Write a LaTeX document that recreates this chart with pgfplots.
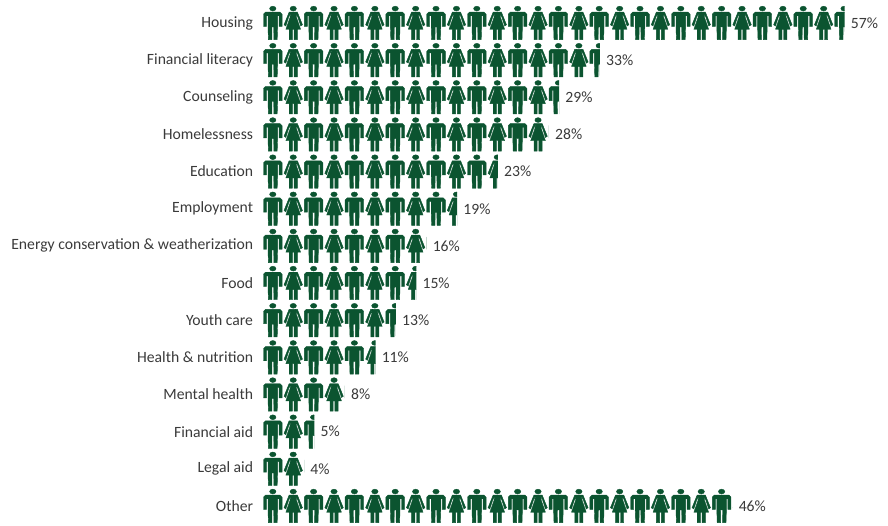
\documentclass[border=0pt]{standalone}
\usepackage{fontspec}
\setmainfont{Carlito}
\usepackage{pgfplots}
\pgfplotsset{compat=1.18}
\usetikzlibrary{patterns}
\definecolor{figure}{HTML}{0B5430}
\definecolor{labeltext}{HTML}{3A3A3A}

% Phase of the figures in the tile, in units of 1/0.75 pt
\def\ox{18.5}
\def\oy{2.05}
\def\pp#1#2#3{\pgfpoint{(\ox+#1+#2)*0.75pt}{(\oy+34-#3)*0.75pt}}
\newcommand\man[1]{%
  \pgfpathellipse{\pp{#1}{9.5}{2.6}}{\pgfqpoint{2.4pt}{0pt}}{\pgfqpoint{0pt}{1.8pt}}%
  \pgfpathmoveto{\pp{#1}{0.2}{8.2}}%
  \pgfpathlineto{\pp{#1}{2.2}{6.2}}\pgfpathlineto{\pp{#1}{16.8}{6.2}}%
  \pgfpathlineto{\pp{#1}{18.8}{8.2}}\pgfpathlineto{\pp{#1}{18.8}{20.4}}%
  \pgfpathlineto{\pp{#1}{15.8}{20.4}}\pgfpathlineto{\pp{#1}{15.8}{9.8}}%
  \pgfpathlineto{\pp{#1}{14.3}{9.8}}\pgfpathlineto{\pp{#1}{14.3}{21}}%
  \pgfpathlineto{\pp{#1}{13.9}{33.7}}\pgfpathlineto{\pp{#1}{10.5}{33.7}}%
  \pgfpathlineto{\pp{#1}{10.4}{21}}\pgfpathlineto{\pp{#1}{8.6}{21}}%
  \pgfpathlineto{\pp{#1}{8.5}{33.7}}\pgfpathlineto{\pp{#1}{5.1}{33.7}}%
  \pgfpathlineto{\pp{#1}{4.7}{21}}\pgfpathlineto{\pp{#1}{4.7}{9.8}}%
  \pgfpathlineto{\pp{#1}{3.2}{9.8}}\pgfpathlineto{\pp{#1}{3.2}{20.4}}%
  \pgfpathlineto{\pp{#1}{0.2}{20.4}}\pgfpathclose
}
\newcommand\woman[1]{%
  \pgfpathellipse{\pp{#1}{9.35}{2.6}}{\pgfqpoint{2.4pt}{0pt}}{\pgfqpoint{0pt}{1.8pt}}%
  % dress and legs
  \pgfpathmoveto{\pp{#1}{7.0}{6.2}}\pgfpathlineto{\pp{#1}{11.7}{6.2}}%
  \pgfpathlineto{\pp{#1}{12.6}{11.5}}\pgfpathlineto{\pp{#1}{16.7}{23.3}}%
  \pgfpathlineto{\pp{#1}{13.4}{23.3}}\pgfpathlineto{\pp{#1}{13.4}{33.7}}%
  \pgfpathlineto{\pp{#1}{10.2}{33.7}}\pgfpathlineto{\pp{#1}{10.2}{23.3}}%
  \pgfpathlineto{\pp{#1}{8.5}{23.3}}\pgfpathlineto{\pp{#1}{8.5}{33.7}}%
  \pgfpathlineto{\pp{#1}{5.3}{33.7}}\pgfpathlineto{\pp{#1}{5.3}{23.3}}%
  \pgfpathlineto{\pp{#1}{2.0}{23.3}}\pgfpathlineto{\pp{#1}{6.1}{11.5}}\pgfpathclose
  % arms
  \pgfpathmoveto{\pp{#1}{5.2}{6.2}}\pgfpathlineto{\pp{#1}{7.2}{6.2}}%
  \pgfpathlineto{\pp{#1}{4.9}{10.8}}\pgfpathlineto{\pp{#1}{1.9}{20.0}}%
  \pgfpathlineto{\pp{#1}{0.1}{18.8}}\pgfpathclose
  \pgfpathmoveto{\pp{#1}{13.5}{6.2}}\pgfpathlineto{\pp{#1}{11.5}{6.2}}%
  \pgfpathlineto{\pp{#1}{13.8}{10.8}}\pgfpathlineto{\pp{#1}{16.8}{20.0}}%
  \pgfpathlineto{\pp{#1}{18.6}{18.8}}\pgfpathclose
}
% One tile: a man and a woman, 4 percentage points wide and one row high
\pgfdeclarepatternformonly{figures}
  {\pgfpoint{(18.5-0.4)*0.75pt}{(\oy-0.5)*0.75pt}}
  {\pgfpoint{(18.5-0.4+40.8)*0.75pt}{(\oy-0.5+37.15)*0.75pt}}
  {\pgfpoint{40.8*0.75pt}{37.15*0.75pt}}
  {\pgfsetlinewidth{0.3pt}\man{0}\woman{20.6}\pgfusepath{fill,stroke}}

\begin{document}
\begin{tikzpicture}
\useasboundingbox (0,0) rectangle (666pt,393.75pt);
\begin{axis}[
  at={(263.3*0.75pt,{(525-4.4)*0.75pt})}, anchor=north west,
  x=7.65pt, y=-27.8625pt,
  xmin=0, xmax=61.2, ymin=-0.5, ymax=13.5,
  clip=false,
  axis line style={draw=none},
  xtick=\empty,
  ytick={0,...,13},
  yticklabels={Housing,Financial literacy,Counseling,Homelessness,Education,Employment,Energy conservation \& weatherization,Food,Youth care,Health \& nutrition,Mental health,Financial aid,Legal aid,Other},
  major tick length=0pt,
  yticklabel style={font=\fontsize{11.75}{14}\selectfont, text=labeltext, inner xsep=0pt, xshift=-7.5pt, yshift=0pt},
  xbar, bar width=27pt,
  nodes near coords={\pgfmathprintnumber{\pgfplotspointmeta}\%},
  point meta=x,
  nodes near coords style={font=\fontsize{11.75}{14}\selectfont, text=labeltext, anchor=west, inner xsep=0pt, xshift=4.5pt,
    /pgf/number format/assume math mode=true},
]
\addplot[draw=none, pattern=figures, pattern color=figure] coordinates {
  (57,0) (33,1) (29,2) (28,3) (23,4) (19,5) (16,6)
  (15,7) (13,8) (11,9) (8,10) (5,11) (4,12) (46,13)
};
\end{axis}
\end{tikzpicture}
\end{document}
